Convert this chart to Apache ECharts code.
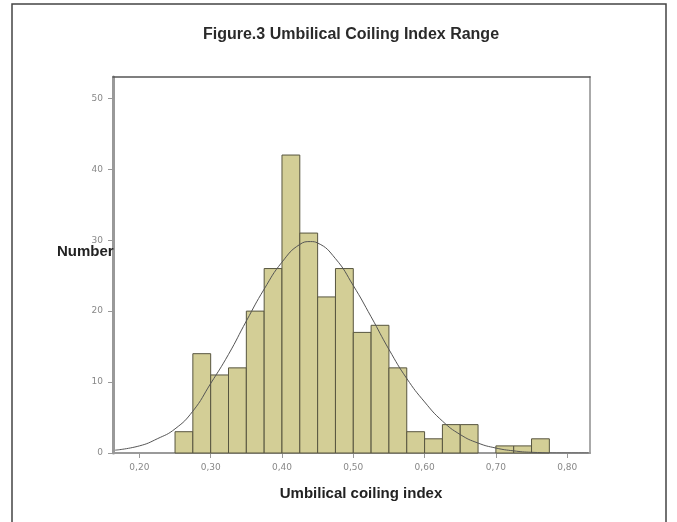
<!DOCTYPE html>
<html>
<head>
<meta charset="utf-8">
<script src="https://cdn.jsdelivr.net/npm/echarts@6/dist/echarts.min.js"></script>
<style>
html,body{margin:0;padding:0;background:#fff;}
#c{width:677px;height:522px;}
</style>
</head>
<body>
<div id="c"></div>
<script>
// Histogram bins (lower edges) and counts
const binWidth = 0.025;
const binStarts = [0.250,0.275,0.300,0.325,0.350,0.375,0.400,0.425,0.450,0.475,0.500,0.525,0.550,0.575,0.600,0.625,0.650,0.675,0.700,0.725,0.750];
const counts    = [3,    14,   11,   12,   20,   26,   42,   31,   22,   26,   17,   18,   12,   3,    2,    4,    4,    0,    1,    1,    2];
// Normal curve
const curveX = [0.166,0.20,0.225,0.25,0.275,0.30,0.325,0.35,0.375,0.40,0.425,0.44,0.45,0.475,0.50,0.525,0.55,0.575,0.60,0.625,0.65,0.675,0.70,0.725,0.75,0.80,0.83];
const curveY = [0.4,  1.0, 2.0,  3.4, 5.9,  9.8, 13.9, 18.6,23.1, 26.9,29.4, 29.8,29.6,27.4, 23.6,19.2, 14.6,10.5, 7.2, 4.5,  2.6, 1.4,  0.7, 0.3,  0.1, 0.0, 0.0];
const xTicks = [0.2,0.3,0.4,0.5,0.6,0.7,0.8];
const yTicks = [0,10,20,30,40,50];

const barData = binStarts.map((s,i)=>[s,counts[i]]);
const curveData = curveX.map((x,i)=>[x,curveY[i]]);

const chart = echarts.init(document.getElementById('c'));
const fmt = v => v.toFixed(2).replace('.', ',');
chart.setOption({
  animation:false,
  backgroundColor:'#ffffff',
  title:{
    text:'Figure.3 Umbilical Coiling Index Range',
    left:346, top:22, textAlign:'center',
    textStyle:{fontFamily:'Liberation Sans',fontSize:16,fontWeight:'bold',color:'#2a2a2a'}
  },
  grid:{left:113, top:77, right:87, bottom:69},
  xAxis:[{
    type:'value', min:0.163, max:0.832,
    axisLine:{show:true,onZero:false,lineStyle:{color:'#9a9a9a',width:2}},
    axisTick:{show:true,length:5,lineStyle:{color:'#999'},customValues:xTicks},
    axisLabel:{customValues:xTicks,formatter:fmt,margin:10,fontFamily:'DejaVu Sans',fontSize:9,color:'#888'},
    splitLine:{show:false}
  },{
    type:'value', position:'top', min:0.163, max:0.832,
    axisLine:{show:true,onZero:false,lineStyle:{color:'#555',width:1.5}},
    axisTick:{show:false}, axisLabel:{show:false}, splitLine:{show:false}
  }],
  yAxis:[{
    type:'value', min:0, max:53, interval:10,
    axisLine:{show:true,onZero:false,lineStyle:{color:'#999',width:3}},
    axisTick:{show:true,length:5,lineStyle:{color:'#999'},customValues:yTicks},
    axisLabel:{customValues:yTicks,margin:10,fontFamily:'DejaVu Sans',fontSize:9,color:'#888'},
    splitLine:{show:false}
  },{
    type:'value', position:'right', min:0, max:53,
    axisLine:{show:true,onZero:false,lineStyle:{color:'#aaa',width:2}},
    axisTick:{show:false}, axisLabel:{show:false}, splitLine:{show:false}
  }],
  series:[
    {
      type:'custom',
      data:barData,
      z:2,
      renderItem:function(params, api){
        const x0 = api.value(0), c = api.value(1);
        if(!c) return null;
        const p0 = api.coord([x0, c]);
        const p1 = api.coord([x0 + binWidth, 0]);
        return {type:'rect', shape:{x:p0[0], y:p0[1], width:p1[0]-p0[0], height:p1[1]-p0[1]},
          style:{fill:'#d3ce96', stroke:'#57553f', lineWidth:1}};
      }
    },
    {
      type:'line', data:curveData, smooth:true, symbol:'none', z:3,
      lineStyle:{color:'#555',width:1}
    }
  ],
  graphic:[
    {type:'rect', shape:{x:12,y:4,width:654,height:540}, style:{fill:null, stroke:'#444', lineWidth:1.5}, z:-1},
    {type:'text', left:57, top:244, z:10, style:{text:'Number', fontFamily:'Liberation Sans', fontSize:15, fontWeight:'bold', fill:'#222'}},
    {type:'text', x:361, y:494, z:10, style:{text:'Umbilical coiling index', fontFamily:'Liberation Sans', fontSize:15, fontWeight:'bold', fill:'#222', textAlign:'center', textVerticalAlign:'middle'}}
  ]
});
</script>
</body>
</html>
